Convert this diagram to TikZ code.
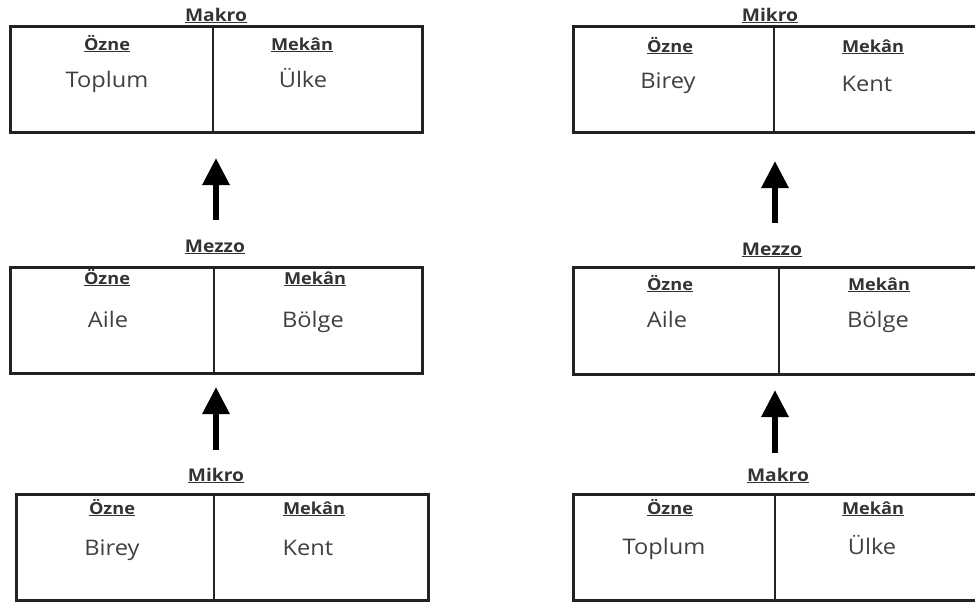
\documentclass[tikz,border=0pt]{standalone}
\usepackage{fontspec}
\setmainfont{Open Sans}[FakeStretch=1.1]
\usetikzlibrary{arrows.meta}
\definecolor{txt}{HTML}{333333}
\definecolor{body}{HTML}{404040}
\definecolor{edge}{HTML}{222222}
\begin{document}
\begin{tikzpicture}[x=1pt,y=-1pt,
  frame/.style={draw=edge, line width=3pt, rectangle, inner sep=0pt, outer sep=0pt},
  divider/.style={draw=edge, line width=1.3pt},
  level/.style={anchor=base, inner sep=0pt, font=\fontsize{17.5}{20}\selectfont\bfseries, text=txt},
  head/.style={anchor=base, inner sep=0pt, font=\fontsize{16.5}{19}\selectfont\bfseries, text=txt},
  item/.style={anchor=base, inner sep=0pt, font=\fontsize{21.5}{25}\selectfont, text=body},
  up/.style={line width=6pt, -{Triangle[length=27pt,width=26pt]}, black}
]
\useasboundingbox (0,0) rectangle (975,606);
\clip (0,0) rectangle (975,606);

% ---------- left column ----------
\node[frame, minimum width=412pt, minimum height=106pt] (L1) at (216,79) {};
\draw[divider] (L1.north -| 213,0) -- (L1.south -| 213,0);
\node[level] (L1t) at (216,21) {\underline{Makro}};
\node[head] (L1h1) at (107,50) {\underline{Özne}};
\node[head] (L1h2) at (302,50) {\underline{Mekân}};
\node[item] (L1a) at (107,87) {Toplum};
\node[item] (L1b) at (303,87) {Ülke};

\node[frame, minimum width=412pt, minimum height=106pt] (L2) at (216,320) {};
\draw[divider] (L2.north -| 214,0) -- (L2.south -| 214,0);
\node[level] (L2t) at (215,252) {\underline{Mezzo}};
\node[head] (L2h1) at (107,284) {\underline{Özne}};
\node[head] (L2h2) at (315,284) {\underline{Mekân}};
\node[item] (L2a) at (108,327) {Aile};
\node[item] (L2b) at (313,327) {Bölge};

\node[frame, minimum width=412pt, minimum height=106pt] (L3) at (222.5,547) {};
\draw[divider] (L3.north -| 214,0) -- (L3.south -| 214,0);
\node[level] (L3t) at (216,481) {\underline{Mikro}};
\node[head] (L3h1) at (112,514) {\underline{Özne}};
\node[head] (L3h2) at (314,514) {\underline{Mekân}};
\node[item] (L3a) at (112,555) {Birey};
\node[item] (L3b) at (308,555) {Kent};

% ---------- right column ----------
\node[frame, minimum width=412pt, minimum height=106pt] (R1) at (779,79.5) {};
\draw[divider] (R1.north -| 774,0) -- (R1.south -| 774,0);
\node[level] (R1t) at (770,21) {\underline{Mikro}};
\node[head] (R1h1) at (670,52) {\underline{Özne}};
\node[head] (R1h2) at (873,52) {\underline{Mekân}};
\node[item] (R1a) at (668,88) {Birey};
\node[item] (R1b) at (867,91) {Kent};

\node[frame, minimum width=412pt, minimum height=107pt] (R2) at (779,320.5) {};
\draw[divider] (R2.north -| 779,0) -- (R2.south -| 779,0);
\node[level] (R2t) at (772,255) {\underline{Mezzo}};
\node[head] (R2h1) at (670,290) {\underline{Özne}};
\node[head] (R2h2) at (879,290) {\underline{Mekân}};
\node[item] (R2a) at (667,327) {Aile};
\node[item] (R2b) at (878,327) {Bölge};

\node[frame, minimum width=412pt, minimum height=106pt] (R3) at (779,547) {};
\draw[divider] (R3.north -| 775,0) -- (R3.south -| 775,0);
\node[level] (R3t) at (778,481) {\underline{Makro}};
\node[head] (R3h1) at (670,514) {\underline{Özne}};
\node[head] (R3h2) at (873,514) {\underline{Mekân}};
\node[item] (R3a) at (664,554) {Toplum};
\node[item] (R3b) at (872,554) {Ülke};

% ---------- arrows ----------
\coordinate (aL1s) at (216,220); \coordinate (aL1e) at (216,158);
\coordinate (aL2s) at (216,450); \coordinate (aL2e) at (216,387);
\coordinate (aR1s) at (775,223); \coordinate (aR1e) at (775,161);
\coordinate (aR2s) at (775,453); \coordinate (aR2e) at (775,390);
\draw[up] (aL1s) -- (aL1e);
\draw[up] (aL2s) -- (aL2e);
\draw[up] (aR1s) -- (aR1e);
\draw[up] (aR2s) -- (aR2e);
\end{tikzpicture}
\end{document}
